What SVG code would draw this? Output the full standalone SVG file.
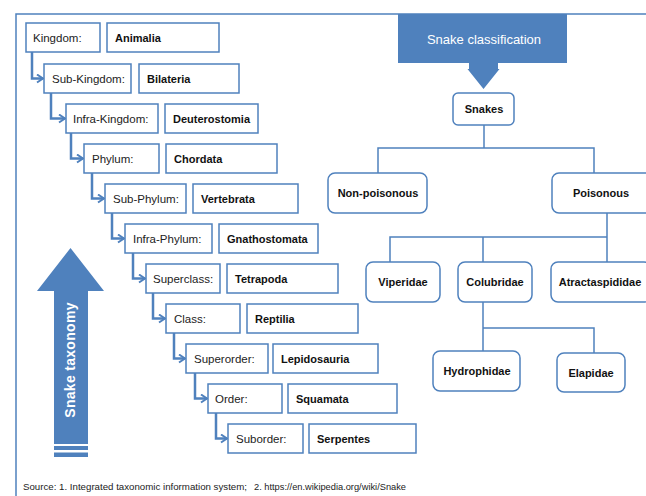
<svg xmlns="http://www.w3.org/2000/svg" width="646" height="496" viewBox="0 0 646 496">
<defs>
<style>
.frame{fill:none;stroke:#4F81BD;stroke-width:1.5}
.tb{fill:#fff;stroke:#4F81BD;stroke-width:1.5}
.rb{fill:#fff;stroke:#4F81BD;stroke-width:1.5}
.lab{font-family:"Liberation Sans",Arial,sans-serif;font-size:11.5px;fill:#222}
.val{font-family:"Liberation Sans",Arial,sans-serif;font-size:11px;font-weight:bold;fill:#111}
.rt{font-family:"Liberation Sans",Arial,sans-serif;font-size:11px;font-weight:bold;fill:#111;text-anchor:middle}
.chain{fill:none;stroke:#4F81BD;stroke-width:2.5;marker-end:url(#chev)}
.tree{fill:none;stroke:#4F81BD;stroke-width:1.5}
.src{font-family:"Liberation Sans",Arial,sans-serif;font-size:9.5px;fill:#222}
</style>
<marker id="chev" markerUnits="userSpaceOnUse" viewBox="0 0 8 10" refX="7" refY="5" markerWidth="8" markerHeight="10" orient="auto">
<path d="M1,1 L7,5 L1,9" fill="none" stroke="#4F81BD" stroke-width="2"/>
</marker>
</defs>
<rect width="646" height="496" fill="#fff"/>
<path class="frame" d="M16,500 V14 H650"/>

<g id="connectors">
<path class="chain" d="M32,52 V78.5 H43"/>
<path class="chain" d="M51,93 V118.5 H65"/>
<path class="chain" d="M71,133 V158.5 H83"/>
<path class="chain" d="M92,173 V198.5 H104"/>
<path class="chain" d="M112,213 V238.5 H124"/>
<path class="chain" d="M133,253 V278.5 H145"/>
<path class="chain" d="M153,293 V318.5 H165"/>
<path class="chain" d="M174,333 V358.5 H185"/>
<path class="chain" d="M195,373 V398.5 H207"/>
<path class="chain" d="M216,413 V438.5 H227"/>
<path class="tree" d="M484,125 V148 M378,173 V148 H594 V173"/>
<path class="tree" d="M607,213 V262 M390,262 V237 H607 M483,237 V262"/>
<path class="tree" d="M483,302 V351 M483,328 H594 V353"/>
</g>

<g id="taxonomy-arrow">
<path d="M70.5,248 L104,291 L88,291 L88,444 L54,444 L54,291 L37,291 Z" fill="#4F81BD"/>
<rect x="54" y="446" width="34" height="4" fill="#4F81BD"/>
<rect x="54" y="452.5" width="34" height="4.5" fill="#4F81BD"/>
<text x="0" y="0" transform="translate(75,360) rotate(-90)" text-anchor="middle" font-family="'Liberation Sans',Arial,sans-serif" font-size="14" font-weight="bold" fill="#fff" letter-spacing="0.3">Snake taxonomy</text>
</g>

<g id="kingdom"><rect class="tb" x="26" y="23" width="74" height="29"/><text class="lab" x="33" y="42">Kingdom:</text>
<rect class="tb" x="107" y="23" width="112" height="29"/><text class="val" x="115" y="42">Animalia</text></g>
<g id="subkingdom"><rect class="tb" x="44" y="64" width="87" height="29"/><text class="lab" x="52" y="83">Sub-Kingdom:</text>
<rect class="tb" x="139" y="64" width="100" height="29"/><text class="val" x="147" y="83">Bilateria</text></g>
<g id="infrakingdom"><rect class="tb" x="66" y="104" width="92" height="29"/><text class="lab" x="73" y="123">Infra-Kingdom:</text>
<rect class="tb" x="165" y="104" width="93" height="29"/><text class="val" x="173" y="123">Deuterostomia</text></g>
<g id="phylum"><rect class="tb" x="84" y="144" width="75" height="29"/><text class="lab" x="92" y="163">Phylum:</text>
<rect class="tb" x="166" y="144" width="111" height="29"/><text class="val" x="174" y="163">Chordata</text></g>
<g id="subphylum"><rect class="tb" x="105" y="184" width="81" height="29"/><text class="lab" x="113" y="203">Sub-Phylum:</text>
<rect class="tb" x="193" y="184" width="105" height="29"/><text class="val" x="201" y="203">Vertebrata</text></g>
<g id="infraphylum"><rect class="tb" x="125" y="224" width="87" height="29"/><text class="lab" x="133" y="243">Infra-Phylum:</text>
<rect class="tb" x="219" y="224" width="99" height="29"/><text class="val" x="227" y="243">Gnathostomata</text></g>
<g id="superclass"><rect class="tb" x="146" y="264" width="74" height="29"/><text class="lab" x="153" y="283">Superclass:</text>
<rect class="tb" x="227" y="264" width="111" height="29"/><text class="val" x="235" y="283">Tetrapoda</text></g>
<g id="class"><rect class="tb" x="166" y="304" width="74" height="29"/><text class="lab" x="174" y="323">Class:</text>
<rect class="tb" x="247" y="304" width="111" height="29"/><text class="val" x="255" y="323">Reptilia</text></g>
<g id="superorder"><rect class="tb" x="186" y="344" width="82" height="29"/><text class="lab" x="194" y="363">Superorder:</text>
<rect class="tb" x="273" y="344" width="105" height="29"/><text class="val" x="281" y="363">Lepidosauria</text></g>
<g id="order"><rect class="tb" x="208" y="384" width="74" height="29"/><text class="lab" x="215" y="403">Order:</text>
<rect class="tb" x="288" y="384" width="109" height="29"/><text class="val" x="296" y="403">Squamata</text></g>
<g id="suborder"><rect class="tb" x="228" y="424" width="75" height="29"/><text class="lab" x="236" y="443">Suborder:</text>
<rect class="tb" x="309" y="424" width="107" height="29"/><text class="val" x="317" y="443">Serpentes</text></g>

<g id="snake-classification">
<path d="M398,14 H567 V63 H498 V69 H499.5 L483.5,89 L467.5,69 H469 V63 H398 Z" fill="#4F81BD"/>
<text x="484" y="44" text-anchor="middle" font-family="'Liberation Sans',Arial,sans-serif" font-size="13" fill="#fff">Snake classification</text>
</g>
<g id="snakes"><rect class="rb" x="453" y="93" width="61" height="32" rx="5"/><text class="rt" x="484" y="113">Snakes</text></g>
<g id="non-poisonous"><rect class="rb" x="328" y="173" width="99" height="40" rx="7"/><text class="rt" x="378" y="197">Non-poisonous</text></g>
<g id="poisonous"><rect class="rb" x="552" y="173" width="100" height="40" rx="7"/><text class="rt" x="601" y="197">Poisonous</text></g>
<g id="viperidae"><rect class="rb" x="366" y="262" width="74" height="40" rx="7"/><text class="rt" x="403" y="286">Viperidae</text></g>
<g id="colubridae"><rect class="rb" x="458" y="262" width="74" height="40" rx="7"/><text class="rt" x="495" y="286">Colubridae</text></g>
<g id="atractaspididae"><rect class="rb" x="551" y="262" width="100" height="40" rx="7"/><text class="rt" x="600" y="286">Atractaspididae</text></g>
<g id="hydrophidae"><rect class="rb" x="433" y="351" width="87" height="40" rx="7"/><text class="rt" x="477" y="375">Hydrophidae</text></g>
<g id="elapidae"><rect class="rb" x="557" y="353" width="68" height="39" rx="7"/><text class="rt" x="591" y="377">Elapidae</text></g>

<g id="source">
<text class="src" x="23" y="490" textLength="224" lengthAdjust="spacingAndGlyphs">Source: 1. Integrated taxonomic information system;</text>
<text class="src" x="254" y="490" textLength="152" lengthAdjust="spacingAndGlyphs">2. https://en.wikipedia.org/wiki/Snake</text>
</g>
</svg>
